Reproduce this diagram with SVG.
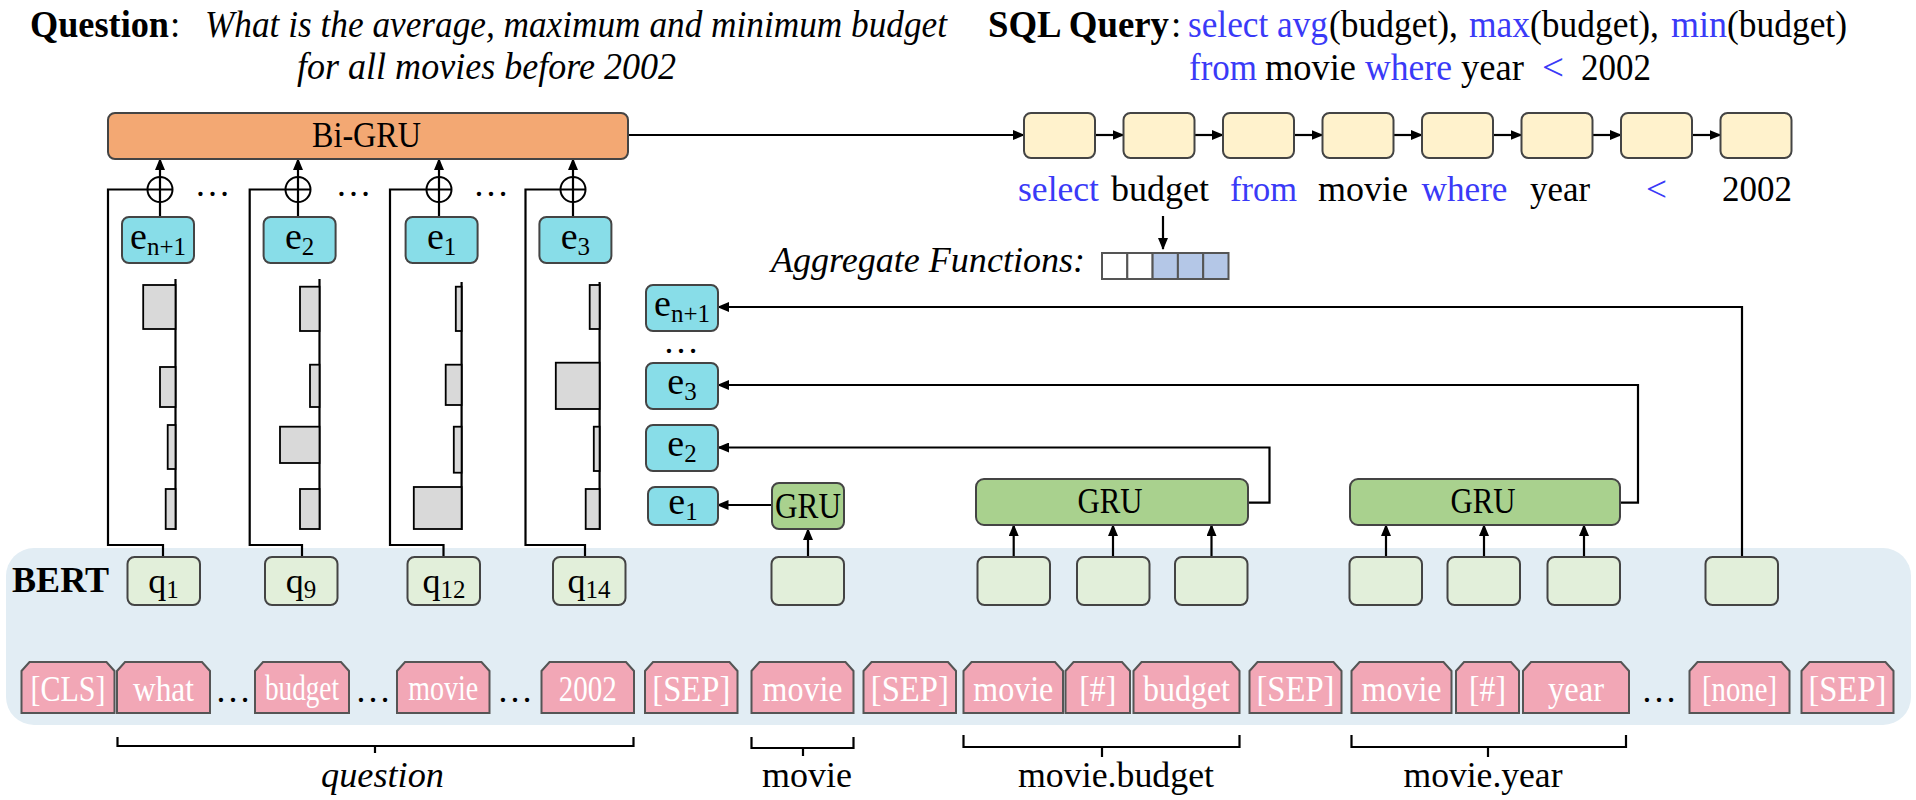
<svg xmlns="http://www.w3.org/2000/svg" width="1916" height="800" viewBox="0 0 1916 800">
<style>
.t{font-family:"Liberation Serif","Times New Roman",serif;font-size:36px;fill:#000}
.h{font-size:37px}
.b{font-weight:bold}
.i{font-style:italic}
.blue{fill:#3a3af7}
.w{fill:#fff;font-size:35px}
.e{font-size:38px}
.sub{font-size:25px}
.st{stroke:#444;stroke-width:2}
.orange{fill:#f3a873}
.cream{fill:#fff2cc}
.cyan{fill:#88dde8}
.gru{fill:#a9d18e}
.lg{fill:#e2efda}
.pink{fill:#f2a7b6;stroke:#555;stroke-width:2}
.bar{fill:#d9d9d9;stroke:#000;stroke-width:1.8}
.ln{fill:none;stroke:#000;stroke-width:2.2}
.ar{fill:none;stroke:#000;stroke-width:2.2;marker-end:url(#ah)}
</style>
<defs>
<marker id="ah" markerUnits="userSpaceOnUse" markerWidth="12" markerHeight="10" refX="11" refY="5" orient="auto">
<path d="M0,0 L12,5 L0,10 z" fill="#000"/>
</marker>
</defs>
<rect width="1916" height="800" fill="#fff"/>

<g id="bert">
<rect x="6" y="548" width="1905" height="177" rx="28" fill="#e2edf4"/>
<text class="t b" x="12" y="592" textLength="97" lengthAdjust="spacingAndGlyphs">BERT</text>
</g>

<g id="question-title">
<text class="t h b" x="30" y="37" textLength="139" lengthAdjust="spacingAndGlyphs">Question</text>
<text class="t h" x="170" y="37">:</text>
<text class="t h i" x="205" y="37" textLength="742" lengthAdjust="spacingAndGlyphs">What is the average, maximum and minimum budget</text>
<text class="t h i" x="297" y="79" textLength="379" lengthAdjust="spacingAndGlyphs">for all movies before 2002</text>
</g>
<g id="sql-title">
<text class="t h b" x="988" y="37" textLength="181" lengthAdjust="spacingAndGlyphs">SQL Query</text>
<text class="t h" x="1171" y="37">:</text>
<text class="t h blue" x="1188" y="37" textLength="140" lengthAdjust="spacingAndGlyphs">select avg</text>
<text class="t h" x="1329" y="37" textLength="129" lengthAdjust="spacingAndGlyphs">(budget),</text>
<text class="t h blue" x="1469" y="37" textLength="61" lengthAdjust="spacingAndGlyphs">max</text>
<text class="t h" x="1530" y="37" textLength="129" lengthAdjust="spacingAndGlyphs">(budget),</text>
<text class="t h blue" x="1671" y="37" textLength="56" lengthAdjust="spacingAndGlyphs">min</text>
<text class="t h" x="1727" y="37" textLength="120" lengthAdjust="spacingAndGlyphs">(budget)</text>
<text class="t h blue" x="1189" y="80" textLength="68" lengthAdjust="spacingAndGlyphs">from</text>
<text class="t h" x="1265" y="80" textLength="91" lengthAdjust="spacingAndGlyphs">movie</text>
<text class="t h blue" x="1365" y="80" textLength="87" lengthAdjust="spacingAndGlyphs">where</text>
<text class="t h" x="1461" y="80" textLength="63" lengthAdjust="spacingAndGlyphs">year</text>
<text class="t h blue" x="1542" y="80" textLength="22" lengthAdjust="spacingAndGlyphs">&lt;</text>
<text class="t h" x="1581" y="80" textLength="70" lengthAdjust="spacingAndGlyphs">2002</text>
</g>

<g id="connectors">
<path class="ar" d="M628,135 H1024"/>
<path class="ar" d="M1095,135 H1123.5"/>
<path class="ar" d="M1194.5,135 H1223"/>
<path class="ar" d="M1294,135 H1322.5"/>
<path class="ar" d="M1393.5,135 H1422"/>
<path class="ar" d="M1493,135 H1521.5"/>
<path class="ar" d="M1592.5,135 H1621"/>
<path class="ar" d="M1692,135 H1720.5"/>
<path class="ar" d="M1163,216 V249"/>
<path class="ln" d="M163,557 V545 H108 V189.5 H147.5"/>
<path class="ln" d="M302,557 V545 H249.7 V189.5 H285.5"/>
<path class="ln" d="M443.5,557 V545 H390 V189.5 H426.5"/>
<path class="ln" d="M585,557 V545 H525.5 V189.5 H560.5"/>
<path class="ln" d="M160,217 V202"/>
<path class="ln" d="M298,217 V202"/>
<path class="ln" d="M439,217 V202"/>
<path class="ln" d="M573,217 V202"/>
<path class="ar" d="M160,177 V159"/>
<path class="ar" d="M298,177 V159"/>
<path class="ar" d="M439,177 V159"/>
<path class="ar" d="M573,177 V159"/>
<path class="ar" d="M772,505 H717.5"/>
<path class="ar" d="M808,557 V529"/>
<path class="ar" d="M1013.7,557 V525"/>
<path class="ar" d="M1113,557 V525"/>
<path class="ar" d="M1211.5,557 V525"/>
<path class="ar" d="M1248,502.7 H1269.5 V447.5 H718"/>
<path class="ar" d="M1386,557 V525"/>
<path class="ar" d="M1484,557 V525"/>
<path class="ar" d="M1584,557 V525"/>
<path class="ar" d="M1620,502.7 H1638 V385 H718"/>
<path class="ar" d="M1742,557 V307 H718"/>
<path class="ln" d="M117.5,737 V746 H633.5 V737 M375,746 V753"/>
<path class="ln" d="M751.5,737 V748 H853.5 V737 M803,748 V756"/>
<path class="ln" d="M963.5,735 V747 H1239.5 V735 M1102,747 V757"/>
<path class="ln" d="M1351.5,735 V747 H1626 V735 M1488,747 V757"/>
</g>

<g id="bigru">
<rect class="st orange" x="108" y="113" width="520" height="46" rx="7"/>
<text class="t" x="366.5" y="147" text-anchor="middle" textLength="109" lengthAdjust="spacingAndGlyphs">Bi-GRU</text>
</g>

<g id="decoder">
<rect class="st cream" x="1024" y="113" width="71" height="45" rx="7"/>
<rect class="st cream" x="1123.5" y="113" width="71" height="45" rx="7"/>
<rect class="st cream" x="1223" y="113" width="71" height="45" rx="7"/>
<rect class="st cream" x="1322.5" y="113" width="71" height="45" rx="7"/>
<rect class="st cream" x="1422" y="113" width="71" height="45" rx="7"/>
<rect class="st cream" x="1521.5" y="113" width="71" height="45" rx="7"/>
<rect class="st cream" x="1621" y="113" width="71" height="45" rx="7"/>
<rect class="st cream" x="1720.5" y="113" width="71" height="45" rx="7"/>
</g>
<g id="decoder-labels">
<text class="t blue" x="1018" y="201" textLength="81" lengthAdjust="spacingAndGlyphs">select</text>
<text class="t" x="1111" y="201" textLength="98" lengthAdjust="spacingAndGlyphs">budget</text>
<text class="t blue" x="1230" y="201" textLength="67" lengthAdjust="spacingAndGlyphs">from</text>
<text class="t" x="1318" y="201" textLength="90" lengthAdjust="spacingAndGlyphs">movie</text>
<text class="t blue" x="1421.5" y="201" textLength="86" lengthAdjust="spacingAndGlyphs">where</text>
<text class="t" x="1530" y="201" textLength="60" lengthAdjust="spacingAndGlyphs">year</text>
<text class="t blue" x="1646" y="201" textLength="21" lengthAdjust="spacingAndGlyphs">&lt;</text>
<text class="t" x="1722" y="201" textLength="70" lengthAdjust="spacingAndGlyphs">2002</text>
</g>

<g id="aggregate">
<text class="t i" x="771" y="272" textLength="314" lengthAdjust="spacingAndGlyphs">Aggregate Functions:</text>
<rect x="1102" y="253" width="25.3" height="26" fill="#fff" stroke="#555" stroke-width="2"/>
<rect x="1127.3" y="253" width="25.3" height="26" fill="#fff" stroke="#555" stroke-width="2"/>
<rect x="1152.6" y="253" width="25.3" height="26" fill="#b4c7e7" stroke="#555" stroke-width="2"/>
<rect x="1177.9" y="253" width="25.3" height="26" fill="#b4c7e7" stroke="#555" stroke-width="2"/>
<rect x="1203.2" y="253" width="25.3" height="26" fill="#b4c7e7" stroke="#555" stroke-width="2"/>
</g>

<g id="col1">
<circle cx="160" cy="189.5" r="12.5" fill="#fff" stroke="#000" stroke-width="2"/>
<path class="ln" d="M147.5,189.5 H172.5 M160,177 V202"/>
<rect class="st cyan" x="122" y="217" width="72" height="46" rx="7"/>
<text class="t e" x="158" y="249" text-anchor="middle">e<tspan class="sub" dy="6">n+1</tspan></text>
<path class="ln" d="M175.5,279 V530"/>
<rect class="bar" x="143.2" y="285" width="32.3" height="44"/>
<rect class="bar" x="160" y="367" width="15.5" height="40"/>
<rect class="bar" x="167.7" y="425" width="7.8" height="44"/>
<rect class="bar" x="165.7" y="489" width="9.8" height="40"/>
</g>
<g id="col2">
<circle cx="298" cy="189.5" r="12.5" fill="#fff" stroke="#000" stroke-width="2"/>
<path class="ln" d="M285.5,189.5 H310.5 M298,177 V202"/>
<rect class="st cyan" x="263.6" y="217" width="72" height="46" rx="7"/>
<text class="t e" x="299.6" y="249" text-anchor="middle">e<tspan class="sub" dy="6">2</tspan></text>
<path class="ln" d="M319.5,279 V530"/>
<rect class="bar" x="300" y="286.7" width="19.5" height="44.3"/>
<rect class="bar" x="310" y="364.7" width="9.5" height="42.3"/>
<rect class="bar" x="280" y="426.7" width="39.5" height="36.3"/>
<rect class="bar" x="300" y="489" width="19.5" height="40"/>
</g>
<g id="col3">
<circle cx="439" cy="189.5" r="12.5" fill="#fff" stroke="#000" stroke-width="2"/>
<path class="ln" d="M426.5,189.5 H451.5 M439,177 V202"/>
<rect class="st cyan" x="405.6" y="217" width="72" height="46" rx="7"/>
<text class="t e" x="441.6" y="249" text-anchor="middle">e<tspan class="sub" dy="6">1</tspan></text>
<path class="ln" d="M461.6,282 V530"/>
<rect class="bar" x="455.8" y="286.7" width="5.8" height="44.3"/>
<rect class="bar" x="445.7" y="364.7" width="15.9" height="40.3"/>
<rect class="bar" x="453.8" y="426.7" width="7.8" height="46"/>
<rect class="bar" x="413.8" y="487" width="47.8" height="42"/>
</g>
<g id="col4">
<circle cx="573" cy="189.5" r="12.5" fill="#fff" stroke="#000" stroke-width="2"/>
<path class="ln" d="M560.5,189.5 H585.5 M573,177 V202"/>
<rect class="st cyan" x="539.4" y="217" width="72" height="46" rx="7"/>
<text class="t e" x="575.4" y="249" text-anchor="middle">e<tspan class="sub" dy="6">3</tspan></text>
<path class="ln" d="M599.6,282 V530"/>
<rect class="bar" x="589.7" y="285" width="9.9" height="44"/>
<rect class="bar" x="555.8" y="362.7" width="43.8" height="46.3"/>
<rect class="bar" x="593.8" y="426.7" width="5.8" height="44.3"/>
<rect class="bar" x="585.7" y="489" width="13.9" height="40"/>
</g>
<g id="col-dots">
<text class="t" x="212.5" y="196" font-size="28" text-anchor="middle">…</text>
<text class="t" x="353.5" y="196" font-size="28" text-anchor="middle">…</text>
<text class="t" x="491" y="196" font-size="28" text-anchor="middle">…</text>
</g>

<g id="e-n1">
<rect class="st cyan" x="646" y="285" width="72" height="46" rx="7"/>
<text class="t e" x="682" y="316" text-anchor="middle">e<tspan class="sub" dy="6">n+1</tspan></text>
</g>
<g id="e-dots"><text class="t" x="681" y="353" font-size="24" text-anchor="middle">…</text></g>
<g id="e3">
<rect class="st cyan" x="646" y="363" width="72" height="46" rx="7"/>
<text class="t e" x="682" y="394" text-anchor="middle">e<tspan class="sub" dy="6">3</tspan></text>
</g>
<g id="e2">
<rect class="st cyan" x="646" y="425" width="72" height="46" rx="7"/>
<text class="t e" x="682" y="456" text-anchor="middle">e<tspan class="sub" dy="6">2</tspan></text>
</g>
<g id="e1">
<rect class="st cyan" x="648" y="487" width="70" height="38" rx="7"/>
<text class="t e" x="683" y="514" text-anchor="middle">e<tspan class="sub" dy="6">1</tspan></text>
</g>

<g id="gru-movie">
<rect class="st gru" x="772" y="483" width="72" height="46" rx="7"/>
<text class="t" x="808" y="518" text-anchor="middle" textLength="66" lengthAdjust="spacingAndGlyphs">GRU</text>
</g>
<g id="gru-budget">
<rect class="st gru" x="976" y="479" width="272" height="46" rx="8"/>
<text class="t" x="1110" y="513" text-anchor="middle" textLength="65" lengthAdjust="spacingAndGlyphs">GRU</text>
</g>
<g id="gru-year">
<rect class="st gru" x="1350" y="479" width="270" height="46" rx="8"/>
<text class="t" x="1483" y="513" text-anchor="middle" textLength="65" lengthAdjust="spacingAndGlyphs">GRU</text>
</g>

<g id="q1"><rect class="st lg" x="127.5" y="557" width="72.5" height="48" rx="7"/>
<text class="t" x="163.5" y="593" text-anchor="middle">q<tspan class="sub" dy="5">1</tspan></text></g>
<g id="q9"><rect class="st lg" x="265" y="557" width="72.5" height="48" rx="7"/>
<text class="t" x="301" y="593" text-anchor="middle">q<tspan class="sub" dy="5">9</tspan></text></g>
<g id="q12"><rect class="st lg" x="407.5" y="557" width="72.5" height="48" rx="7"/>
<text class="t" x="444" y="593" text-anchor="middle">q<tspan class="sub" dy="5">12</tspan></text></g>
<g id="q14"><rect class="st lg" x="553" y="557" width="72.5" height="48" rx="7"/>
<text class="t" x="589" y="593" text-anchor="middle">q<tspan class="sub" dy="5">14</tspan></text></g>
<g id="h-movie"><rect class="st lg" x="771.5" y="557" width="72.5" height="48" rx="7"/></g>
<g id="h-budget1"><rect class="st lg" x="977.5" y="557" width="72.5" height="48" rx="7"/></g>
<g id="h-budget2"><rect class="st lg" x="1077" y="557" width="72.5" height="48" rx="7"/></g>
<g id="h-budget3"><rect class="st lg" x="1175" y="557" width="72.5" height="48" rx="7"/></g>
<g id="h-year1"><rect class="st lg" x="1349.5" y="557" width="72.5" height="48" rx="7"/></g>
<g id="h-year2"><rect class="st lg" x="1447.5" y="557" width="72.5" height="48" rx="7"/></g>
<g id="h-year3"><rect class="st lg" x="1547.5" y="557" width="72.5" height="48" rx="7"/></g>
<g id="h-none"><rect class="st lg" x="1705.5" y="557" width="72.5" height="48" rx="7"/></g>

<g id="tok-cls"><polygon class="pink" points="21.5,671 29.5,662 106.5,662 114.5,671 114.5,713 21.5,713"/><text class="t w" x="68" y="701" text-anchor="middle" textLength="75" lengthAdjust="spacingAndGlyphs">[CLS]</text></g>
<g id="tok-what"><polygon class="pink" points="117,671 125,662 202,662 210,671 210,713 117,713"/><text class="t w" x="163.5" y="701" text-anchor="middle" textLength="61" lengthAdjust="spacingAndGlyphs">what</text></g>
<g id="tok-budget-q"><polygon class="pink" points="255,671 263,662 341,662 349,671 349,713 255,713"/><text class="t w" x="302" y="700" font-size="31" text-anchor="middle" textLength="74" lengthAdjust="spacingAndGlyphs">budget</text></g>
<g id="tok-movie-q"><polygon class="pink" points="397,671 405,662 481.5,662 489.5,671 489.5,713 397,713"/><text class="t w" x="443.3" y="700" font-size="31" text-anchor="middle" textLength="70" lengthAdjust="spacingAndGlyphs">movie</text></g>
<g id="tok-2002"><polygon class="pink" points="541.5,671 549.5,662 626,662 634,671 634,713 541.5,713"/><text class="t w" x="587.8" y="701" font-size="33" text-anchor="middle" textLength="58" lengthAdjust="spacingAndGlyphs">2002</text></g>
<g id="tok-sep1"><polygon class="pink" points="645,671 653,662 729.5,662 737.5,671 737.5,713 645,713"/><text class="t w" x="691.3" y="701" text-anchor="middle" textLength="78" lengthAdjust="spacingAndGlyphs">[SEP]</text></g>
<g id="tok-movie"><polygon class="pink" points="751.5,671 759.5,662 845.5,662 853.5,671 853.5,713 751.5,713"/><text class="t w" x="802.5" y="701" text-anchor="middle" textLength="80" lengthAdjust="spacingAndGlyphs">movie</text></g>
<g id="tok-sep2"><polygon class="pink" points="863.5,671 871.5,662 948,662 956,671 956,713 863.5,713"/><text class="t w" x="909.8" y="701" text-anchor="middle" textLength="78" lengthAdjust="spacingAndGlyphs">[SEP]</text></g>
<g id="tok-movie2"><polygon class="pink" points="963.5,671 971.5,662 1055,662 1063,671 1063,713 963.5,713"/><text class="t w" x="1013.3" y="701" text-anchor="middle" textLength="80" lengthAdjust="spacingAndGlyphs">movie</text></g>
<g id="tok-hash1"><polygon class="pink" points="1065.5,671 1073.5,662 1122,662 1130,671 1130,713 1065.5,713"/><text class="t w" x="1097.8" y="701" text-anchor="middle" textLength="37" lengthAdjust="spacingAndGlyphs">[#]</text></g>
<g id="tok-budget"><polygon class="pink" points="1133.5,671 1141.5,662 1231.5,662 1239.5,671 1239.5,713 1133.5,713"/><text class="t w" x="1186.5" y="701" text-anchor="middle" textLength="87" lengthAdjust="spacingAndGlyphs">budget</text></g>
<g id="tok-sep3"><polygon class="pink" points="1249.5,671 1257.5,662 1333.5,662 1341.5,671 1341.5,713 1249.5,713"/><text class="t w" x="1295.5" y="701" text-anchor="middle" textLength="78" lengthAdjust="spacingAndGlyphs">[SEP]</text></g>
<g id="tok-movie3"><polygon class="pink" points="1351.5,671 1359.5,662 1443.5,662 1451.5,671 1451.5,713 1351.5,713"/><text class="t w" x="1401.5" y="701" text-anchor="middle" textLength="80" lengthAdjust="spacingAndGlyphs">movie</text></g>
<g id="tok-hash2"><polygon class="pink" points="1456,671 1464,662 1511,662 1519,671 1519,713 1456,713"/><text class="t w" x="1487.5" y="701" text-anchor="middle" textLength="37" lengthAdjust="spacingAndGlyphs">[#]</text></g>
<g id="tok-year"><polygon class="pink" points="1523,671 1531,662 1621,662 1629,671 1629,713 1523,713"/><text class="t w" x="1576" y="701" text-anchor="middle" textLength="56" lengthAdjust="spacingAndGlyphs">year</text></g>
<g id="tok-none"><polygon class="pink" points="1689.5,671 1697.5,662 1781.5,662 1789.5,671 1789.5,713 1689.5,713"/><text class="t w" x="1739.5" y="701" font-size="33" text-anchor="middle" textLength="75" lengthAdjust="spacingAndGlyphs">[none]</text></g>
<g id="tok-sep4"><polygon class="pink" points="1801.5,671 1809.5,662 1885.5,662 1893.5,671 1893.5,713 1801.5,713"/><text class="t w" x="1847.5" y="701" text-anchor="middle" textLength="78" lengthAdjust="spacingAndGlyphs">[SEP]</text></g>
<g id="tok-dots">
<text class="t" x="233" y="702" font-size="28" text-anchor="middle">…</text>
<text class="t" x="373" y="702" font-size="28" text-anchor="middle">…</text>
<text class="t" x="515" y="702" font-size="28" text-anchor="middle">…</text>
<text class="t" x="1659" y="702" font-size="28" text-anchor="middle">…</text>
</g>

<g id="span-labels">
<text class="t i" x="382.5" y="787" text-anchor="middle" textLength="123" lengthAdjust="spacingAndGlyphs">question</text>
<text class="t" x="807" y="787" text-anchor="middle" textLength="90" lengthAdjust="spacingAndGlyphs">movie</text>
<text class="t" x="1116" y="787" text-anchor="middle" textLength="196" lengthAdjust="spacingAndGlyphs">movie.budget</text>
<text class="t" x="1483" y="787" text-anchor="middle" textLength="159" lengthAdjust="spacingAndGlyphs">movie.year</text>
</g>
</svg>
